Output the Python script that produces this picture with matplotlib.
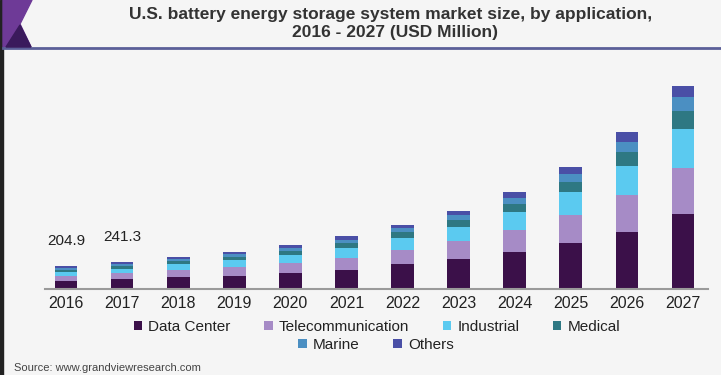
import numpy as np
import matplotlib.pyplot as plt
from matplotlib.patches import Polygon, Rectangle
from matplotlib.lines import Line2D

plt.rcParams['font.family'] = ['Liberation Sans', 'DejaVu Sans']

years = ['2016', '2017', '2018', '2019', '2020', '2021',
         '2022', '2023', '2024', '2025', '2026', '2027']
data_center = [73, 89, 105, 121, 144, 173, 224, 269, 331, 415, 516, 671]
telecom = [44, 53, 64, 75, 89, 107, 131, 161, 197, 251, 329, 415]
industrial = [38, 42.3, 54, 63, 76, 90, 104, 131, 164, 203, 266, 358]
medical = [20, 21, 25, 29, 35, 42, 51, 60, 72, 90, 125, 161]
marine = [15, 18, 21, 24, 28, 33, 36, 48, 57, 75, 90, 125]
others = [14.9, 18, 19, 21, 24, 29, 31, 36, 51, 66, 84, 101]

series = ['Data Center', 'Telecommunication', 'Industrial', 'Medical', 'Marine', 'Others']
values = [data_center, telecom, industrial, medical, marine, others]
colors = ['#3b1049', '#a68bc6', '#5bcaf0', '#2e7883', '#4b8fc2', '#4a4fa6']
labelled = {0: '204.9', 1: '241.3'}

W, H = 721, 375
bg = '#f5f5f5'
fig = plt.figure(figsize=(W / 100, H / 100), dpi=100, facecolor=bg)


def px(x, y):
    return (x / W, 1 - y / H)


# header decoration
fig.patches.append(Rectangle((0, 0), 3 / W, 1, transform=fig.transFigure,
                             color='#222222', zorder=0))
fig.patches.append(Polygon([px(3, 0), px(32, 0), px(20, 24), px(31, 47), px(3, 47)],
                           closed=True, transform=fig.transFigure,
                           color='#6e3a97', zorder=1))
fig.patches.append(Polygon([px(6, 47), px(20, 25), px(31, 47)],
                           closed=True, transform=fig.transFigure,
                           color='#3a1a5c', zorder=2))
fig.lines.append(Line2D([3 / W, 1], [1 - 48 / H] * 2, transform=fig.transFigure,
                        color='#5b5f98', lw=2))

fig.text(391 / W, 1 - 14 / H,
         'U.S. battery energy storage system market size, by application,',
         ha='center', va='center', fontsize=12.5, fontweight='bold', color='#333333')
fig.text(395 / W, 1 - 33 / H, '2016 - 2027 (USD Million)',
         ha='center', va='center', fontsize=12.5, fontweight='bold', color='#333333')

# axes: baseline at y=289, left 45, right 708
ax = fig.add_axes([45 / W, (H - 289) / H, 663 / W, 219 / H])
ax.set_facecolor(bg)
x = np.arange(len(years))
bottom = np.zeros(len(years))
for name, vals, c in zip(series, values, colors):
    ax.bar(x, vals, width=0.405, bottom=bottom, color=c, label=name)
    bottom += np.array(vals)

for i, txt in labelled.items():
    ax.text(x[i], bottom[i] + 225, txt, ha='center', va='center',
            fontsize=11, color='#222222')

ax.set_xlim(-0.374, 11.446)
ax.set_ylim(0, 219 * 9.0)
for s in ['top', 'right', 'left']:
    ax.spines[s].set_visible(False)
ax.spines['bottom'].set_color('#9a9a9a')
ax.spines['bottom'].set_linewidth(1.5)
ax.set_yticks([])
ax.set_xticks(x)
ax.set_xticklabels(years, fontsize=11.5, color='#222222')
ax.tick_params(axis='x', length=0, pad=5)

handles, labels = ax.get_legend_handles_labels()
leg1 = fig.legend(handles[:4], labels[:4], loc='center', bbox_to_anchor=(377 / W, 1 - 327 / H),
                  ncol=4, frameon=False, fontsize=11, handlelength=0.55, handleheight=0.55,
                  handletextpad=0.4, columnspacing=2.2)
leg2 = fig.legend(handles[4:], labels[4:], loc='center', bbox_to_anchor=(376 / W, 1 - 345 / H),
                  ncol=2, frameon=False, fontsize=11, handlelength=0.55, handleheight=0.55,
                  handletextpad=0.4, columnspacing=2.2)
for leg in (leg1, leg2):
    for t in leg.get_texts():
        t.set_color('#222222')

fig.text(14 / W, 1 - 368 / H, 'Source: www.grandviewresearch.com',
         ha='left', va='center', fontsize=8, color='#444444')

fig.savefig('out.png', dpi=100, facecolor=bg)
